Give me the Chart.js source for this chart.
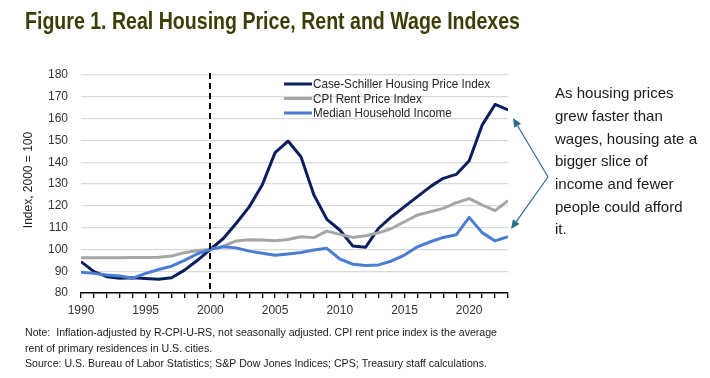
<!DOCTYPE html>
<html><head><meta charset="utf-8">
<script src="https://cdn.jsdelivr.net/npm/chart.js@4.4.1/dist/chart.umd.min.js"></script>
<style>html,body{margin:0;padding:0;background:#fff;}#wrap{width:710px;height:378px;position:relative;}</style>
</head><body>
<div id="wrap"><canvas id="c" width="710" height="378"></canvas></div>
<script>
const years = [1990,1991,1992,1993,1994,1995,1996,1997,1998,1999,2000,2001,2002,2003,2004,2005,2006,2007,2008,2009,2010,2011,2012,2013,2014,2015,2016,2017,2018,2019,2020,2021,2022,2023];
const caseShiller = [94.4,89.8,87.5,86.8,87.0,86.6,86.3,87.0,90.5,95.0,100,105,112,119.5,129.5,144.4,149.7,142.5,125,113.8,108.9,101.6,101,109.7,115,119.6,124.2,128.8,132.6,134.4,140.7,157,166.5,164];
const cpiRent = [96.2,96.2,96.2,96.2,96.3,96.3,96.4,97,98.5,99.5,100,101.5,103.9,104.4,104.3,104,104.5,105.8,105.4,108.4,106.9,105.5,106.3,107.6,109.6,112.7,115.8,117.3,118.8,121.4,123.3,120.4,117.8,122.4];
const medianIncome = [89.5,89.0,88.3,87.8,86.8,89.0,90.8,92.3,95.0,98.0,100,101.2,100.7,99.2,98.2,97.3,97.9,98.6,99.7,100.5,95.6,93.2,92.6,92.9,94.7,97.4,101.2,103.5,105.5,106.7,114.7,107.7,103.9,105.8];
const seriesNames = ['Case-Schiller Housing Price Index','CPI Rent Price Index','Median Household Income'];
const yTicks = [80,90,100,110,120,130,140,150,160,170,180];
const xLabelYears = [1990,1995,2000,2005,2010,2015,2020];
const markerYear = 2000;
const titleText = 'Figure 1. Real Housing Price, Rent and Wage Indexes';
const yTitle = 'Index, 2000 = 100';
const noteLines = ['Note:  Inflation-adjusted by R-CPI-U-RS, not seasonally adjusted. CPI rent price index is the average','rent of primary residences in U.S. cities.','Source: U.S. Bureau of Labor Statistics; S&P Dow Jones Indices; CPS; Treasury staff calculations.'];
const annotLines = ['As housing prices','grew faster than','wages, housing ate a','bigger slice of','income and fewer','people could afford','it.'];

const colors = ['#0b1f5e','#a6a6a6','#4a7cd3'];
const toPts = arr => arr.map((v,i)=>({x:years[i], y:v}));

function fitText(ctx, text, x, y, targetW){
  const w = ctx.measureText(text).width;
  const sx = targetW / w;
  ctx.save(); ctx.translate(x,y); ctx.scale(sx,1); ctx.fillText(text,0,0); ctx.restore();
  return sx;
}

const decor = {
  id:'decor',
  afterDatasetsDraw(chart){
    const ctx = chart.ctx, xs = chart.scales.x, ys = chart.scales.y;
    const px = Math.round(xs.getPixelForValue(markerYear));
    ctx.save();
    ctx.strokeStyle = '#000'; ctx.lineWidth = 2; ctx.setLineDash([6,4]);
    ctx.beginPath(); ctx.moveTo(px, ys.top - 2); ctx.lineTo(px, ys.bottom); ctx.stroke();
    ctx.restore();
  },
  afterDraw(chart){
    const ctx = chart.ctx;
    ctx.save();
    // title
    ctx.fillStyle = '#3d3d05';
    ctx.font = 'bold 23px "Liberation Sans Narrow","Liberation Sans",Arial,sans-serif';
    ctx.textBaseline = 'alphabetic'; ctx.textAlign = 'left';
    fitText(ctx, titleText, 25, 29, 495);
    // y title
    ctx.fillStyle = '#222';
    ctx.font = '12px "Liberation Sans",Arial,sans-serif';
    ctx.save(); ctx.translate(29,180); ctx.rotate(-Math.PI/2);
    ctx.textAlign='center'; ctx.textBaseline='middle';
    ctx.fillText(yTitle,0,0); ctx.restore();
    // legend
    const ly = [84, 98.5, 113];
    ctx.font = '13px "Liberation Sans Narrow","Liberation Sans",Arial,sans-serif';
    ctx.textBaseline='middle'; ctx.textAlign='left';
    let lsx = null;
    seriesNames.forEach((n,i)=>{
      ctx.strokeStyle = colors[i]; ctx.lineWidth = 3;
      ctx.beginPath(); ctx.moveTo(284, ly[i]); ctx.lineTo(312, ly[i]); ctx.stroke();
      ctx.fillStyle = '#262626';
      if (lsx === null) { lsx = 177 / ctx.measureText(n).width; }
      ctx.save(); ctx.translate(313, ly[i]+0.5); ctx.scale(lsx,1); ctx.fillText(n,0,0); ctx.restore();
    });
    // annotation text
    ctx.fillStyle = '#1a1a1a';
    ctx.font = '15px "Liberation Sans",Arial,sans-serif';
    ctx.textBaseline='middle';
    const asx = 142 / ctx.measureText(annotLines[2]).width;
    annotLines.forEach((t,i)=>{
      ctx.save(); ctx.translate(555, 94 + i*22.7); ctx.scale(asx,1); ctx.fillText(t,0,0); ctx.restore();
    });
    // arrows
    const ac = '#2b6c8f';
    function arrow(x0,y0,x1,y1){
      ctx.strokeStyle = ac; ctx.fillStyle = ac; ctx.lineWidth = 1.2;
      const a = Math.atan2(y1-y0, x1-x0);
      const L = 9, W = 4;
      const bx = x1 - L*Math.cos(a), by = y1 - L*Math.sin(a);
      ctx.beginPath(); ctx.moveTo(x0,y0); ctx.lineTo(bx,by); ctx.stroke();
      ctx.beginPath(); ctx.moveTo(x1,y1);
      ctx.lineTo(bx + W*Math.sin(a), by - W*Math.cos(a));
      ctx.lineTo(bx - W*Math.sin(a), by + W*Math.cos(a));
      ctx.closePath(); ctx.fill();
    }
    arrow(548,177,513,118);
    arrow(548,177,511,229);
    // notes
    ctx.fillStyle = '#1a1a1a';
    ctx.font = '11.5px "Liberation Sans Narrow","Liberation Sans",Arial,sans-serif';
    ctx.textBaseline='middle';
    const nsx = 472 / ctx.measureText(noteLines[0]).width;
    const ny = [333, 348.5, 364];
    noteLines.forEach((t,i)=>{
      ctx.save(); ctx.translate(25, ny[i]); ctx.scale(nsx,1); ctx.fillText(t,0,0); ctx.restore();
    });
    ctx.restore();
  }
};

new Chart(document.getElementById('c').getContext('2d'), {
  type:'line',
  data:{datasets:[
    {label:seriesNames[0], data:toPts(caseShiller), borderColor:colors[0], borderWidth:3},
    {label:seriesNames[1], data:toPts(cpiRent), borderColor:colors[1], borderWidth:3},
    {label:seriesNames[2], data:toPts(medianIncome), borderColor:colors[2], borderWidth:3}
  ].reverse()},
  options:{
    responsive:false, animation:false, devicePixelRatio:1,
    layout:{padding:{top:75,left:0,right:202,bottom:0}},
    plugins:{legend:{display:false}, title:{display:false}, tooltip:{enabled:false}},
    elements:{point:{radius:0}, line:{tension:0, borderJoinStyle:'round', borderCapStyle:'butt', fill:false}},
    scales:{
      x:{type:'linear', min:years[0], max:years[years.length-1],
        afterFit(s){ s.height = 85; },
        afterBuildTicks(s){ s.ticks = years.map(v=>({value:v})); },
        ticks:{autoSkip:false, maxRotation:0, padding:5, color:'#333',
          font:{family:'"Liberation Sans",Arial,sans-serif', size:12},
          callback(v){ return xLabelYears.includes(v) ? String(v) : ''; }},
        grid:{drawOnChartArea:false, drawTicks:true, tickLength:5, color:'#000', lineWidth:1.3},
        border:{display:true, color:'#000', width:1.5}
      },
      y:{min:yTicks[0], max:yTicks[yTicks.length-1],
        afterFit(s){ s.width = 81; },
        afterBuildTicks(s){ s.ticks = yTicks.map(v=>({value:v})); },
        ticks:{padding:13, color:'#333', font:{family:'"Liberation Sans",Arial,sans-serif', size:12}},
        grid:{color:'#d9d9d9', lineWidth:1.3, drawTicks:false},
        border:{display:false}
      }
    }
  },
  plugins:[decor]
});
</script>
</body></html>
